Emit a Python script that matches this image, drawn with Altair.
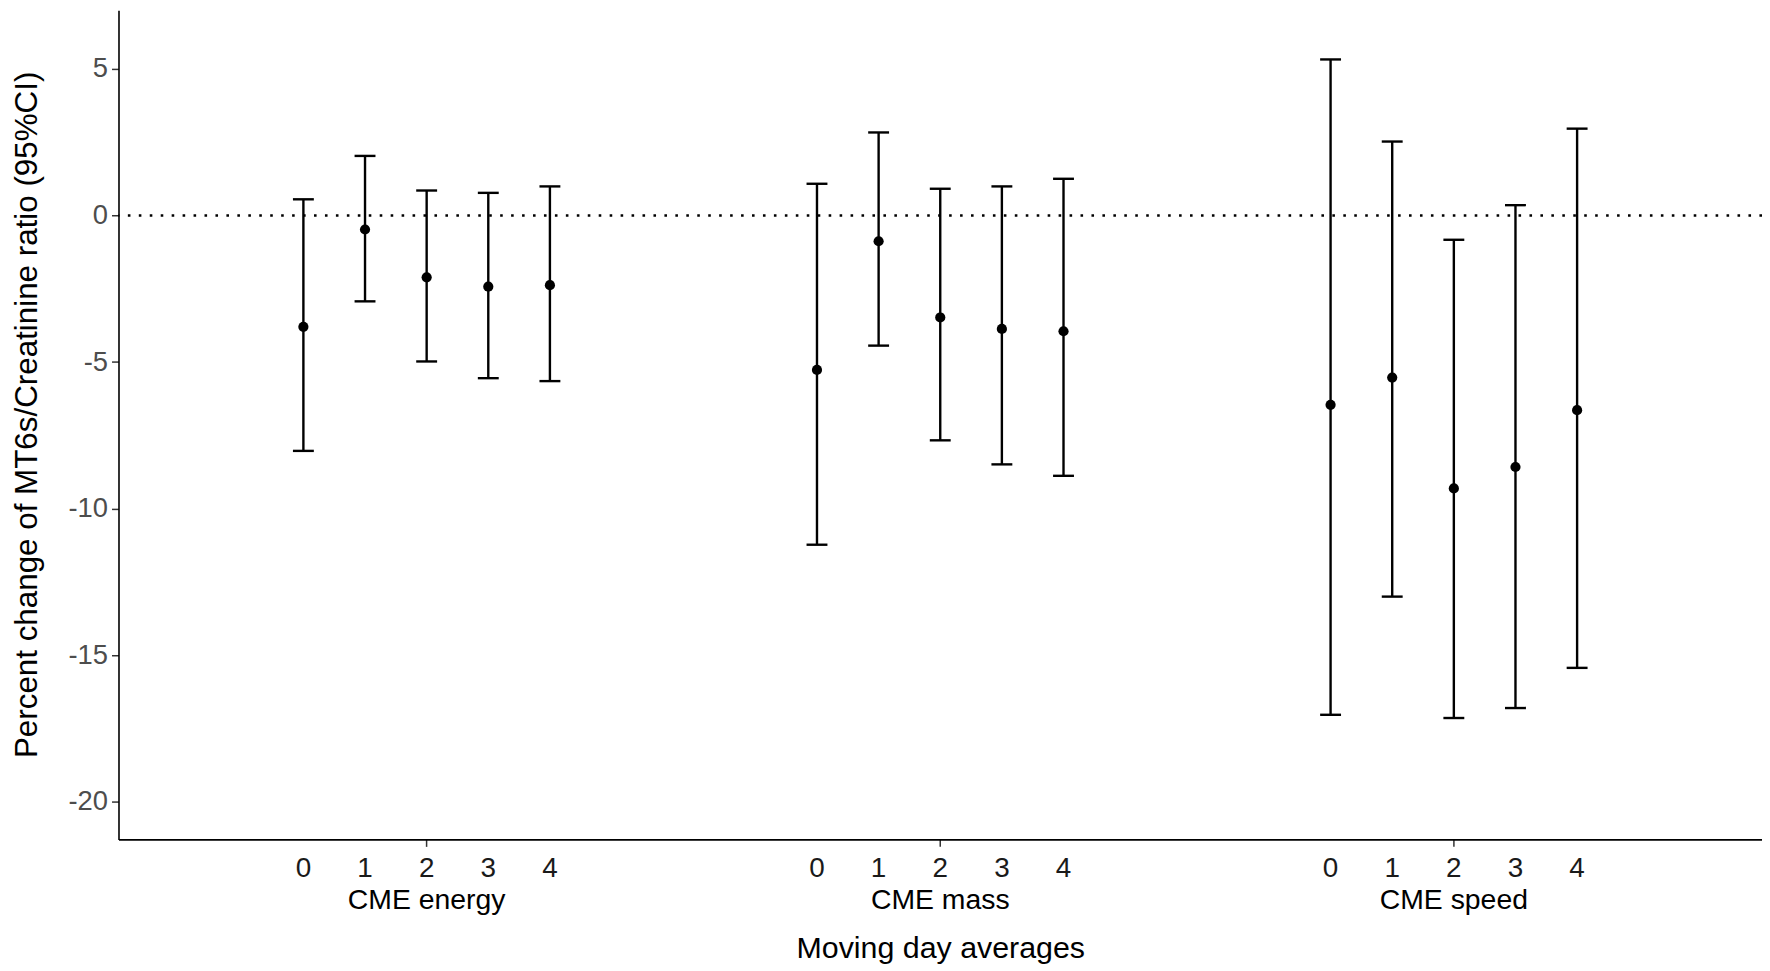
import altair as alt
import pandas as pd

# ---- data ----
groups = ["CME energy", "CME mass", "CME speed"]
lags = [0, 1, 2, 3, 4]

est_energy = [-3.80, -0.48, -2.11, -2.43, -2.38]
lo_energy = [-8.03, -2.93, -4.98, -5.55, -5.65]
hi_energy = [0.55, 2.03, 0.85, 0.77, 0.99]

est_mass = [-5.27, -0.88, -3.48, -3.87, -3.95]
lo_mass = [-11.23, -4.44, -7.67, -8.49, -8.88]
hi_mass = [1.08, 2.83, 0.91, 0.99, 1.25]

est_speed = [-6.46, -5.53, -9.31, -8.58, -6.64]
lo_speed = [-17.03, -13.00, -17.14, -16.80, -15.43]
hi_speed = [5.32, 2.52, -0.83, 0.35, 2.96]

y_ticks = [5, 0, -5, -10, -15, -20]

rows = []
for g, ests, los, his in zip(groups,
                             [est_energy, est_mass, est_speed],
                             [lo_energy, lo_mass, lo_speed],
                             [hi_energy, hi_mass, hi_speed]):
    for lag, e, l, h in zip(lags, ests, los, his):
        rows.append({"group": g, "lag": str(lag), "est": e, "lo": l, "hi": h})
df = pd.DataFrame(rows)
zero_df = pd.DataFrame({"zero": [0]})

W, H = 1651, 833
FONT = "Liberation Sans"
lag_order = [str(l) for l in lags]
YT = "Percent change of MT6s/Creatinine ratio (95%CI)"

xaxis = alt.Axis(
    title="Moving day averages", labelAngle=0, labelFont=FONT, labelFontSize=28.5,
    labelColor="black", labelBaseline="alphabetic", labelPadding=62,
    tickSize=7, tickColor="#333333", tickWidth=1.5,
    domainColor="black", domainWidth=1.6, grid=False,
    titleFont=FONT, titleFontSize=30.5, titleFontWeight="normal", titleColor="black",
    titleY=119, titleBaseline="alphabetic",
)
X = alt.X("group:N", sort=groups,
          scale=alt.Scale(paddingInner=0.4, paddingOuter=0.3), axis=xaxis)
XO = alt.XOffset("lag:N", sort=lag_order,
                 scale=alt.Scale(paddingInner=0, paddingOuter=0))

yscale = alt.Scale(domain=[-21.28, 7.0], nice=False, zero=False)
yaxis = alt.Axis(
    title=YT, values=y_ticks,
    labelExpr="'' + datum.value", labelFont=FONT, labelFontSize=27.5,
    labelColor="#4D4D4D", labelPadding=4, tickSize=7, tickColor="#333333",
    tickWidth=1.5, domainColor="black", domainWidth=1.6, grid=False,
    titleFont=FONT, titleFontSize=31.5, titleFontWeight="normal", titleColor="black",
    titleX=-91, titleY=406, titleAngle=-90, titleAlign="center",
    titleBaseline="middle",
)

zero_line = alt.Chart(zero_df).mark_rule(
    color="black", strokeWidth=2.6, strokeDash=[2.6, 8.4]
).encode(y=alt.Y("zero:Q", scale=yscale, axis=yaxis, title=YT))

bars = alt.Chart(df).mark_rule(color="black", strokeWidth=2.4).encode(
    x=X, xOffset=XO,
    y=alt.Y("lo:Q", scale=yscale, axis=yaxis, title=YT), y2="hi:Q")

cap_lo = alt.Chart(df).mark_tick(color="black", size=21, thickness=2.4, opacity=1).encode(
    x=X, xOffset=XO, y=alt.Y("lo:Q", scale=yscale, axis=yaxis, title=YT))
cap_hi = alt.Chart(df).mark_tick(color="black", size=21, thickness=2.4, opacity=1).encode(
    x=X, xOffset=XO, y=alt.Y("hi:Q", scale=yscale, axis=yaxis, title=YT))

points = alt.Chart(df).mark_circle(color="black", size=105, opacity=1).encode(
    x=X, xOffset=XO, y=alt.Y("est:Q", scale=yscale, axis=yaxis, title=YT))

lag_labels = alt.Chart(df).mark_text(
    font=FONT, fontSize=28, color="#1a1a1a", baseline="alphabetic", align="center"
).encode(x=X, xOffset=XO, y=alt.value(H + 38), text="lag:N")

chart = alt.layer(zero_line, bars, cap_lo, cap_hi, points, lag_labels).properties(
    width=W, height=H,
    autosize=alt.AutoSizeParams(type="none"),
    padding={"left": 111, "top": 0, "right": 0, "bottom": 129},
    background="white",
).configure_view(stroke=None)

chart.save("out.html", embed_options={"renderer": "svg", "actions": False})
